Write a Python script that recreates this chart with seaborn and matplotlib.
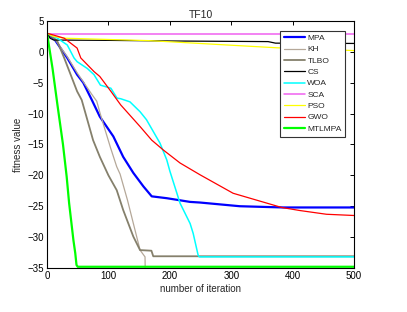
import pandas as pd
import matplotlib
matplotlib.use('Agg')
import matplotlib.pyplot as plt
import seaborn as sns

# convergence curves (iteration, fitness)
mpa_x = [0, 11, 33, 49, 59, 73, 86, 108, 124, 140.5, 157, 170.5, 195, 233, 249, 314, 385, 500]
mpa_y = [2.8, 2.2, -1.0, -3.7, -5.0, -7.8, -10.5, -13.7, -17.0, -19.6, -21.8, -23.4, -23.7, -24.3, -24.4, -25.0, -25.2, -25.2]

kh_x = [0, 11, 33, 49, 60, 73, 81, 86, 92, 103, 113.5, 119, 131, 151.5, 159.6, 160]
kh_y = [3.0, 2.3, -0.8, -3.4, -5.0, -6.9, -8.0, -9.8, -11.8, -15.4, -18.6, -19.8, -24.0, -32.1, -33.2, -36.0]

tlbo_x = [0, 10, 17, 28, 38.5, 49, 56.5, 75, 86, 100, 113.5, 124, 140.5, 151.5, 170, 173, 500]
tlbo_y = [3.0, 2.3, 1.65, -1.0, -3.7, -6.4, -7.8, -14.3, -17.0, -20.0, -22.4, -25.6, -29.9, -32.1, -32.2, -33.1, -33.1]

cs_x = [0, 5, 11, 100, 200, 360, 372, 500]
cs_y = [3.0, 2.2, 1.9, 1.85, 1.75, 1.65, 1.4, 1.35]

woa_x = [0, 17, 33, 44, 49, 65.6, 76.5, 87, 104, 114, 120, 135, 151.5, 162, 184, 195, 200, 216.6, 233, 238, 246, 248, 500]
woa_y = [3.0, 2.2, 1.1, -1.0, -1.6, -2.7, -3.7, -5.4, -5.9, -7.5, -7.6, -8.1, -9.7, -11.0, -14.8, -17.5, -19.3, -24.5, -27.8, -29.4, -32.9, -33.2, -33.2]

sca_x = [0, 500]
sca_y = [2.95, 2.95]

pso_x = [0, 10, 28, 168, 374, 500]
pso_y = [3.0, 2.5, 2.2, 1.8, 0.65, 0.2]

gwo_x = [0, 11, 28, 49, 55, 76.5, 86, 104, 120, 151.5, 170.5, 189.4, 216.6, 249, 303, 358, 382, 412, 455, 500]
gwo_y = [3.0, 2.7, 2.2, 0.6, -1.0, -3.2, -4.0, -6.4, -8.6, -12.1, -14.3, -15.9, -18.0, -19.9, -22.9, -24.5, -25.2, -25.7, -26.3, -26.5]

mtlmpa_x = [0, 9, 17, 26, 32, 36, 43, 46, 48, 50, 500]
mtlmpa_y = [3.0, -2.7, -8.6, -15.0, -20.2, -24.5, -30.5, -32.6, -34.5, -34.8, -34.8]

series = [
    ('MPA', mpa_x, mpa_y, '#0000ff', 1.6),
    ('KH', kh_x, kh_y, '#b5a899', 0.9),
    ('TLBO', tlbo_x, tlbo_y, '#85806c', 1.3),
    ('CS', cs_x, cs_y, '#000000', 0.9),
    ('WOA', woa_x, woa_y, '#00ffff', 1.1),
    ('SCA', sca_x, sca_y, '#f060f0', 1.1),
    ('PSO', pso_x, pso_y, '#ffff00', 0.9),
    ('GWO', gwo_x, gwo_y, '#ff0000', 0.9),
    ('MTLMPA', mtlmpa_x, mtlmpa_y, '#00ff00', 1.6),
]

sns.set_theme(style='white')
plt.rcParams['font.family'] = ['Liberation Sans', 'DejaVu Sans']

fig = plt.figure(figsize=(4.07, 3.12), dpi=100)
ax = fig.add_axes([0.1155, 0.141, 0.7545, 0.792])

for name, xs, ys, color, lw in series:
    df = pd.DataFrame({'iteration': xs, 'fitness': ys})
    sns.lineplot(data=df, x='iteration', y='fitness', color=color, linewidth=lw,
                 label=name, estimator=None, sort=False, ax=ax)

ax.set_xlim(0, 500)
ax.set_ylim(-35, 5)
ax.set_xticks(range(0, 501, 100))
ax.set_yticks(range(-35, 6, 5))
ax.tick_params(direction='in', top=True, right=True, length=3, width=0.7,
               labelsize=7, colors='black', pad=2.5)
for s in ax.spines.values():
    s.set_color('black')
    s.set_linewidth(0.8)

ax.set_title('TF10', fontsize=7.5, pad=2)
ax.set_xlabel('number of iteration', fontsize=7, labelpad=2)
ax.set_ylabel('fitness value', fontsize=7, labelpad=3)

leg = ax.legend(loc='upper right', bbox_to_anchor=(0.972, 0.961), borderaxespad=0,
                fontsize=6, frameon=True, fancybox=False, framealpha=1,
                edgecolor='#333333', handlelength=2.5, labelspacing=0.42,
                borderpad=0.45, handletextpad=0.3)
leg.get_frame().set_linewidth(0.8)

fig.savefig('out.png', dpi=100)
